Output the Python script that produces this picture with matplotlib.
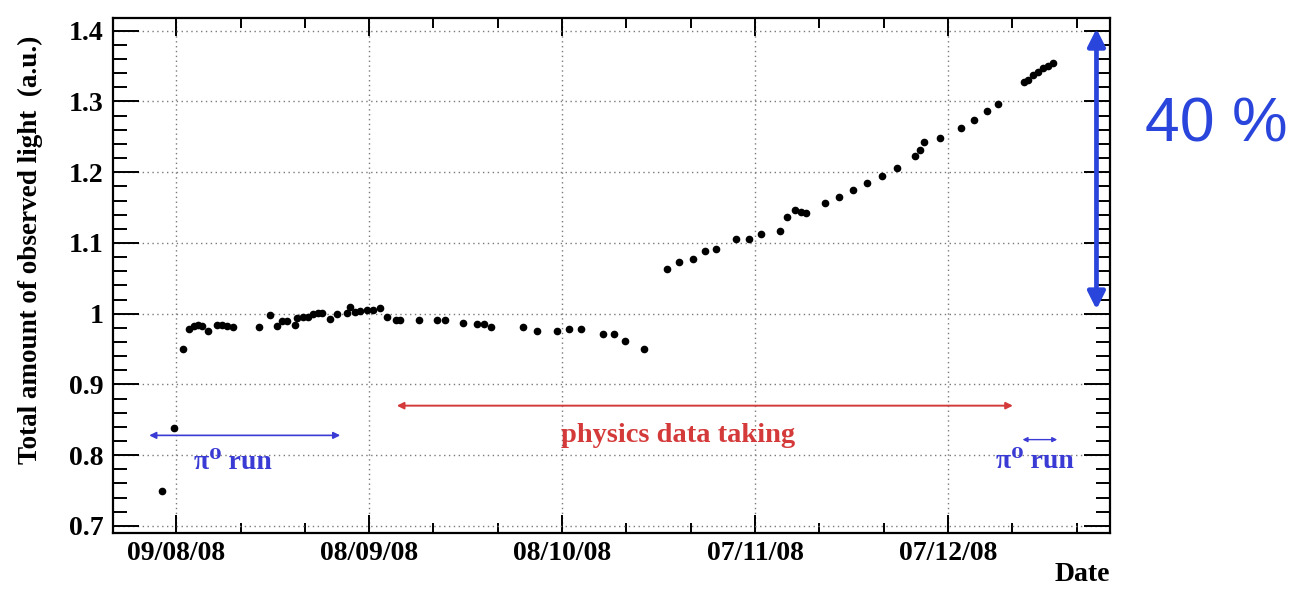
import datetime as dt
import matplotlib
matplotlib.use("Agg")
import matplotlib.pyplot as plt
import matplotlib.dates as mdates
from matplotlib.ticker import FixedLocator, MultipleLocator, FuncFormatter

# Measurement dates, as days after 9 August 2008
day_offset = [
    -2.27, -0.36, 1.09, 2.02, 2.75, 3.42, 4.00, 4.98, 6.28, 7.06, 7.84, 8.77,
    12.86, 14.65, 15.61, 16.39, 17.17, 18.46, 18.82, 19.75, 20.53, 21.31,
    22.08, 22.74, 23.90, 25.04, 26.50, 27.01, 27.79, 28.57, 29.61, 30.64,
    31.68, 32.77, 34.17, 34.79, 37.74, 40.50, 41.84, 44.63, 46.72, 47.85,
    48.90, 53.87, 56.14, 59.16, 61.03, 62.89, 66.31, 68.07, 69.78, 72.74,
    76.27, 78.23, 80.31, 82.27, 83.98, 87.09, 89.02, 90.89, 93.89, 94.93,
    96.27, 97.11, 97.93, 100.93, 103.11, 105.24, 107.42, 109.70, 112.04,
    114.88, 115.66, 116.33, 118.77, 121.99, 124.11, 126.08, 127.84,
    131.84, 132.50, 133.28, 134.06, 134.84, 135.61, 136.30,
]

# Total amount of observed light (arbitrary units)
light = [
    0.750, 0.839, 0.950, 0.978, 0.982, 0.984, 0.983, 0.976, 0.984, 0.984, 0.982, 0.981,
    0.981, 0.998, 0.983, 0.989, 0.990, 0.984, 0.994, 0.995, 0.996, 0.999,
    1.001, 1.001, 0.993, 0.999, 1.001, 1.010, 1.003, 1.004, 1.005, 1.005,
    1.008, 0.995, 0.991, 0.991, 0.991, 0.991, 0.991, 0.987, 0.986, 0.986,
    0.981, 0.981, 0.975, 0.975, 0.979, 0.979, 0.971, 0.971, 0.961, 0.950,
    1.063, 1.073, 1.078, 1.089, 1.091, 1.105, 1.105, 1.113, 1.117, 1.137,
    1.147, 1.144, 1.143, 1.156, 1.165, 1.175, 1.185, 1.195, 1.206,
    1.223, 1.231, 1.243, 1.248, 1.263, 1.274, 1.286, 1.296,
    1.328, 1.331, 1.337, 1.342, 1.347, 1.350, 1.354,
]

start_date = dt.datetime(2008, 8, 9)
tick_dates = [dt.datetime(2008, 8, 9), dt.datetime(2008, 9, 8), dt.datetime(2008, 10, 8),
              dt.datetime(2008, 11, 7), dt.datetime(2008, 12, 7)]
y_ticks = [0.7, 0.8, 0.9, 1.0, 1.1, 1.2, 1.3, 1.4]

base = mdates.date2num(start_date)
x = [base + d for d in day_offset]

serif = ["Liberation Serif", "DejaVu Serif"]
blue = "#3a3ad4"
red = "#d43a3a"
big_blue = "#2a45dc"

fig = plt.figure(figsize=(12.97, 5.94), dpi=100)
ax = fig.add_axes([0.0871, 0.1027, 0.7687, 0.8670])

ax.plot(x, light, "o", color="black", ms=4.5, mec="black", zorder=5)

ax.set_xlim(base - 9.84, base + 145.2)
ax.set_ylim(0.690, 1.418)

major_x = [mdates.date2num(t) for t in tick_dates]
ax.xaxis.set_major_locator(FixedLocator(major_x))
ax.xaxis.set_minor_locator(FixedLocator([base + d for d in range(-10, 150, 10)]))
ax.xaxis.set_major_formatter(mdates.DateFormatter("%d/%m/%y"))
ax.yaxis.set_major_locator(FixedLocator(y_ticks))
ax.yaxis.set_minor_locator(MultipleLocator(0.02))
ax.yaxis.set_major_formatter(FuncFormatter(lambda v, p: f"{v:g}"))

ax.grid(True, which="major", color="#7a7a7a", linestyle=(0, (1, 2.5)), linewidth=1.0)
for s in ax.spines.values():
    s.set_linewidth(1.6)

ax.tick_params(axis="both", which="both", direction="in", top=True, right=True, width=1.4)
ax.tick_params(axis="x", which="major", length=13, pad=6)
ax.tick_params(axis="x", which="minor", length=7)
ax.tick_params(axis="y", which="major", length=19, pad=7)
ax.tick_params(axis="y", which="minor", length=10)
for lab in ax.get_xticklabels() + ax.get_yticklabels():
    lab.set_fontfamily(serif)
    lab.set_fontweight("bold")
    lab.set_fontsize(20)

ax.set_ylabel("Total amount of observed light  (a.u.)", fontfamily=serif,
              fontweight="bold", fontsize=19.5)
ax.yaxis.set_label_coords(-0.070, 0.55)
fig.text(0.856, 0.012, "Date", ha="right", va="bottom", fontfamily=serif,
         fontweight="bold", fontsize=20)

# pi0 run (start)
ax.annotate("", xy=(base - 4.2, 0.828), xytext=(base + 25.5, 0.828),
            arrowprops=dict(arrowstyle="<|-|>", color=blue, lw=1.2,
                            mutation_scale=10, shrinkA=0, shrinkB=0))
ax.text(base + 8.8, 0.789, "\u03c0\u2070 run", color=blue, ha="center", va="center",
        fontfamily=serif, fontweight="bold", fontsize=20)

# physics data taking
ax.annotate("", xy=(base + 34.3, 0.870), xytext=(base + 130.1, 0.870),
            arrowprops=dict(arrowstyle="<|-|>", color=red, lw=1.4,
                            mutation_scale=10, shrinkA=0, shrinkB=0))
ax.text(base + 78.0, 0.828, "physics data taking", color=red, ha="center", va="center",
        fontfamily=serif, fontweight="bold", fontsize=20.5)

# pi0 run (end)
ax.annotate("", xy=(base + 131.6, 0.822), xytext=(base + 137.0, 0.822),
            arrowprops=dict(arrowstyle="<|-|>", color=blue, lw=1.0,
                            mutation_scale=7, shrinkA=0, shrinkB=0))
ax.text(base + 133.5, 0.791, "\u03c0\u2070 run", color=blue, ha="center", va="center",
        fontfamily=serif, fontweight="bold", fontsize=20)

# overall increase
ax.annotate("", xy=(base + 143.1, 1.403), xytext=(base + 143.1, 1.006),
            arrowprops=dict(arrowstyle="<|-|>", color=big_blue, lw=3.4,
                            mutation_scale=26, shrinkA=0, shrinkB=0),
            annotation_clip=False)
fig.text(0.938, 0.790, "40 %", color=big_blue, ha="center", va="center",
         fontfamily=["Liberation Sans", "DejaVu Sans"], fontsize=45)

fig.savefig("out.png", dpi=100)
